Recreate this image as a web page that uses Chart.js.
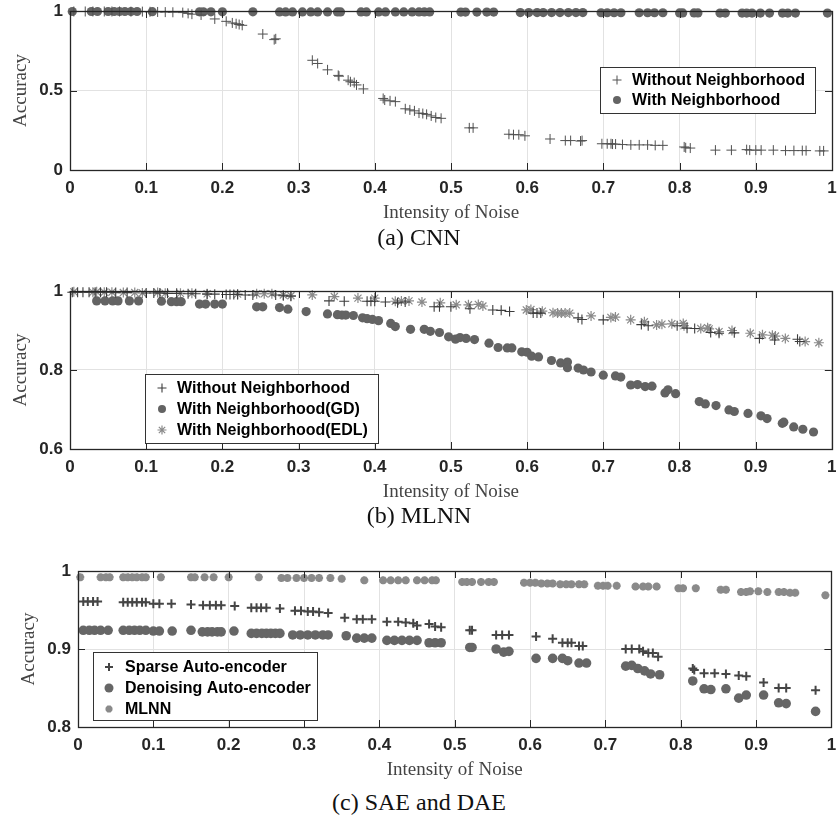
<!DOCTYPE html>
<html>
<head>
<meta charset="utf-8">
<script src="https://cdn.jsdelivr.net/npm/chart.js@4.4.1/dist/chart.umd.min.js"></script>
<style>
  body { margin: 0; background: #fff; width: 838px; height: 828px; position: relative; overflow: hidden; }
  canvas { position: absolute; left: 0; }
  .cap { position: absolute; left: 0; width: 838px; text-align: center; font-family: "Liberation Serif", serif; font-size: 24px; color: #111; line-height: 28px; }
</style>
</head>
<body>
<canvas id="chartA" width="838" height="224" style="top:0"></canvas>
<div class="cap" style="top:223px">(a) CNN</div>
<canvas id="chartB" width="838" height="223" style="top:280px"></canvas>
<div class="cap" style="top:501px">(b) MLNN</div>
<canvas id="chartC" width="838" height="221" style="top:560px"></canvas>
<div class="cap" style="top:788px">(c) SAE and DAE</div>
<script>
// ---- data ----
const xTicks = [0, 0.1, 0.2, 0.3, 0.4, 0.5, 0.6, 0.7, 0.8, 0.9, 1];
const yTicksA = [0, 0.5, 1];
const yTicksB = [0.6, 0.8, 1];
const yTicksC = [0.8, 0.9, 1];

// (a) CNN
const cnnPlainX = [0.005, 0.02, 0.03, 0.045, 0.055, 0.065, 0.08, 0.095, 0.105, 0.115, 0.125, 0.135, 0.148, 0.155, 0.16, 0.172,
  0.19, 0.205, 0.213, 0.218, 0.222, 0.226, 0.253, 0.268, 0.27, 0.318, 0.325, 0.338, 0.352, 0.353, 0.365, 0.368, 0.373, 0.376,
  0.385, 0.411, 0.413, 0.42, 0.427, 0.44, 0.446, 0.452, 0.458, 0.463, 0.468, 0.474, 0.48, 0.487, 0.524, 0.529, 0.576, 0.582,
  0.589, 0.597, 0.63, 0.65, 0.657, 0.67, 0.672, 0.698, 0.705, 0.71, 0.712, 0.716, 0.725, 0.736, 0.747, 0.758, 0.768, 0.778,
  0.806, 0.808, 0.814, 0.847, 0.868, 0.888, 0.892, 0.9, 0.907, 0.923, 0.939, 0.95, 0.961, 0.966, 0.984, 0.989];
const cnnPlainY = [0.997, 0.997, 0.997, 0.997, 0.997, 0.997, 0.996, 0.996, 0.995, 0.994, 0.993, 0.992, 0.99, 0.985, 0.98, 0.975,
  0.95, 0.935, 0.925, 0.92, 0.915, 0.91, 0.855, 0.82, 0.825, 0.69, 0.67, 0.63, 0.595, 0.59, 0.565, 0.555, 0.55, 0.535,
  0.51, 0.45, 0.44, 0.435, 0.43, 0.385, 0.378, 0.372, 0.358, 0.355, 0.35, 0.34, 0.33, 0.325, 0.265, 0.265, 0.225, 0.222,
  0.222, 0.215, 0.195, 0.185, 0.185, 0.182, 0.185, 0.165, 0.165, 0.165, 0.163, 0.163, 0.16, 0.158, 0.158, 0.158, 0.155, 0.155,
  0.145, 0.14, 0.138, 0.125, 0.125, 0.128, 0.125, 0.125, 0.125, 0.125, 0.122, 0.122, 0.122, 0.122, 0.12, 0.12];
const cnnNbrX = [0.003, 0.028, 0.036, 0.05, 0.058, 0.065, 0.072, 0.08, 0.088, 0.108, 0.17, 0.175, 0.185, 0.2, 0.24, 0.275,
  0.283, 0.292, 0.305, 0.316, 0.325, 0.338, 0.351, 0.355, 0.382, 0.389, 0.405, 0.414, 0.427, 0.438, 0.449, 0.458, 0.465,
  0.472, 0.513, 0.519, 0.534, 0.547, 0.556, 0.591, 0.602, 0.613, 0.621, 0.632, 0.643, 0.654, 0.664, 0.673, 0.697, 0.705,
  0.714, 0.723, 0.747, 0.758, 0.767, 0.778, 0.8, 0.804, 0.819, 0.824, 0.853, 0.86, 0.882, 0.888, 0.895, 0.906, 0.918,
  0.935, 0.942, 0.952, 0.994];
const cnnNbrY = [0.997, 0.997, 0.997, 0.997, 0.997, 0.997, 0.997, 0.997, 0.997, 0.996, 0.995, 0.995, 0.995, 0.995, 0.995, 0.994,
  0.994, 0.994, 0.994, 0.994, 0.994, 0.994, 0.994, 0.994, 0.994, 0.994, 0.994, 0.994, 0.994, 0.994, 0.994, 0.994, 0.994,
  0.994, 0.993, 0.993, 0.993, 0.993, 0.993, 0.99, 0.99, 0.99, 0.99, 0.99, 0.99, 0.99, 0.99, 0.99, 0.989, 0.989,
  0.989, 0.989, 0.989, 0.989, 0.989, 0.989, 0.988, 0.988, 0.988, 0.988, 0.987, 0.987, 0.987, 0.987, 0.987, 0.987, 0.987,
  0.987, 0.987, 0.987, 0.987];

// (b) MLNN
const mlnnPlainX = [0.003, 0.01, 0.017, 0.025, 0.033, 0.04, 0.048, 0.06, 0.075, 0.1, 0.11, 0.118, 0.128, 0.14, 0.155, 0.165,
  0.18, 0.19, 0.205, 0.21, 0.215, 0.22, 0.23, 0.24, 0.27, 0.28, 0.29, 0.34, 0.36, 0.39, 0.395, 0.4, 0.414, 0.43, 0.44,
  0.478, 0.485, 0.5, 0.525, 0.555, 0.566, 0.577, 0.608, 0.613, 0.618, 0.667, 0.672, 0.7, 0.75, 0.759, 0.797, 0.81, 0.82,
  0.841, 0.852, 0.872, 0.905, 0.925, 0.955, 0.958];
const mlnnPlainY = [0.997, 0.997, 0.997, 0.997, 0.997, 0.997, 0.997, 0.996, 0.996, 0.995, 0.995, 0.995, 0.994, 0.994, 0.993, 0.993,
  0.992, 0.992, 0.991, 0.991, 0.991, 0.991, 0.99, 0.99, 0.99, 0.988, 0.987, 0.975, 0.974, 0.974, 0.974, 0.974, 0.972, 0.97, 0.972,
  0.96, 0.96, 0.96, 0.955, 0.952, 0.951, 0.948, 0.944, 0.944, 0.944, 0.932, 0.928, 0.927, 0.915, 0.912, 0.912, 0.906, 0.905,
  0.895, 0.893, 0.894, 0.88, 0.876, 0.878, 0.872];
const mlnnGdX = [0.035, 0.046, 0.056, 0.063, 0.078, 0.09, 0.12, 0.133, 0.14, 0.146, 0.17, 0.178, 0.19, 0.2, 0.245, 0.253,
  0.275, 0.286, 0.31, 0.338, 0.351, 0.357, 0.362, 0.372, 0.384, 0.39, 0.397, 0.405, 0.421, 0.427, 0.447, 0.465, 0.473,
  0.485, 0.497, 0.506, 0.512, 0.52, 0.531, 0.55, 0.562, 0.574, 0.58, 0.593, 0.6, 0.606, 0.615, 0.632, 0.644, 0.653,
  0.653, 0.667, 0.674, 0.684, 0.7, 0.716, 0.723, 0.736, 0.745, 0.755, 0.764, 0.781, 0.785, 0.795, 0.826, 0.834, 0.848,
  0.865, 0.872, 0.89, 0.907, 0.915, 0.935, 0.937, 0.95, 0.962, 0.976];
const mlnnGdY = [0.975, 0.975, 0.975, 0.975, 0.975, 0.975, 0.974, 0.973, 0.973, 0.973, 0.967, 0.967, 0.967, 0.967, 0.96, 0.96,
  0.958, 0.954, 0.948, 0.942, 0.94, 0.939, 0.939, 0.938, 0.932, 0.93, 0.928, 0.925, 0.918, 0.91, 0.903, 0.903, 0.898,
  0.895, 0.884, 0.878, 0.882, 0.88, 0.877, 0.868, 0.857, 0.856, 0.856, 0.846, 0.845, 0.835, 0.833, 0.824, 0.818, 0.82,
  0.806, 0.805, 0.8, 0.795, 0.787, 0.785, 0.782, 0.762, 0.763, 0.758, 0.759, 0.742, 0.75, 0.74, 0.72, 0.714, 0.71,
  0.699, 0.695, 0.69, 0.684, 0.677, 0.665, 0.668, 0.656, 0.65, 0.643];
const mlnnEdlX = [0.005, 0.03, 0.035, 0.045, 0.055, 0.07, 0.085, 0.095, 0.115, 0.125, 0.145, 0.16, 0.18, 0.22, 0.245, 0.255,
  0.265, 0.28, 0.29, 0.318, 0.347, 0.378, 0.4, 0.427, 0.435, 0.445, 0.462, 0.486, 0.507, 0.523, 0.536, 0.542, 0.599,
  0.605, 0.62, 0.634, 0.64, 0.645, 0.65, 0.656, 0.684, 0.71, 0.716, 0.736, 0.754, 0.77, 0.777, 0.79, 0.805, 0.806,
  0.828, 0.837, 0.839, 0.852, 0.869, 0.893, 0.909, 0.922, 0.926, 0.939, 0.965, 0.983];
const mlnnEdlY = [0.998, 0.997, 0.998, 0.997, 0.997, 0.996, 0.996, 0.995, 0.996, 0.994, 0.994, 0.994, 0.993, 0.992, 0.993, 0.993,
  0.993, 0.99, 0.988, 0.99, 0.986, 0.982, 0.982, 0.974, 0.975, 0.975, 0.972, 0.97, 0.965, 0.965, 0.966, 0.962, 0.952,
  0.953, 0.949, 0.945, 0.944, 0.944, 0.944, 0.944, 0.937, 0.933, 0.934, 0.927, 0.922, 0.914, 0.916, 0.917, 0.918, 0.912,
  0.905, 0.907, 0.904, 0.897, 0.9, 0.893, 0.889, 0.888, 0.886, 0.88, 0.872, 0.869];

// (c) SAE and DAE
const saeX = [0.007, 0.013, 0.02, 0.026, 0.06, 0.066, 0.072, 0.078, 0.085, 0.09, 0.1, 0.108, 0.124, 0.15, 0.166, 0.175, 0.183,
  0.19, 0.208, 0.23, 0.237, 0.243, 0.25, 0.268, 0.288, 0.296, 0.305, 0.312, 0.32, 0.332, 0.354, 0.37, 0.378, 0.39, 0.41,
  0.425, 0.435, 0.445, 0.45, 0.466, 0.474, 0.482, 0.52, 0.523, 0.555, 0.563, 0.572, 0.608, 0.63, 0.643, 0.65, 0.655,
  0.665, 0.67, 0.727, 0.735, 0.745, 0.75, 0.757, 0.763, 0.77, 0.816, 0.818, 0.831, 0.845, 0.86, 0.877, 0.887, 0.91,
  0.93, 0.94, 0.979];
const saeY = [0.961, 0.961, 0.961, 0.961, 0.96, 0.96, 0.96, 0.96, 0.96, 0.96, 0.958, 0.958, 0.958, 0.957, 0.956, 0.956, 0.956,
  0.956, 0.955, 0.953, 0.953, 0.953, 0.953, 0.952, 0.949, 0.949, 0.948, 0.948, 0.947, 0.946, 0.94, 0.938, 0.938, 0.938, 0.935,
  0.935, 0.934, 0.933, 0.93, 0.932, 0.929, 0.928, 0.924, 0.924, 0.918, 0.918, 0.918, 0.916, 0.913, 0.908, 0.908, 0.908,
  0.904, 0.904, 0.9, 0.9, 0.9, 0.897, 0.895, 0.895, 0.89, 0.875, 0.873, 0.869, 0.869, 0.868, 0.866, 0.865, 0.857,
  0.85, 0.85, 0.847];
const daeX = [0.007, 0.015, 0.022, 0.03, 0.04, 0.06, 0.068, 0.075, 0.082, 0.09, 0.1, 0.108, 0.125, 0.15, 0.165, 0.172, 0.178,
  0.185, 0.19, 0.207, 0.23, 0.237, 0.244, 0.25, 0.256, 0.262, 0.268, 0.285, 0.295, 0.305, 0.315, 0.325, 0.332, 0.356,
  0.37, 0.38, 0.39, 0.41, 0.42, 0.43, 0.44, 0.45, 0.466, 0.474, 0.482, 0.52, 0.523, 0.555, 0.565, 0.572, 0.608, 0.63,
  0.643, 0.65, 0.665, 0.675, 0.727, 0.735, 0.743, 0.752, 0.76, 0.772, 0.816, 0.831, 0.84, 0.86, 0.877, 0.887, 0.91,
  0.93, 0.94, 0.979];
const daeY = [0.924, 0.924, 0.924, 0.924, 0.924, 0.924, 0.924, 0.924, 0.924, 0.924, 0.923, 0.923, 0.923, 0.924, 0.922, 0.922, 0.922,
  0.922, 0.922, 0.923, 0.92, 0.92, 0.92, 0.92, 0.92, 0.92, 0.92, 0.918, 0.918, 0.918, 0.918, 0.918, 0.918, 0.917,
  0.914, 0.914, 0.914, 0.911, 0.911, 0.911, 0.911, 0.911, 0.908, 0.908, 0.908, 0.902, 0.902, 0.9, 0.896, 0.897, 0.888, 0.888,
  0.888, 0.885, 0.882, 0.882, 0.878, 0.879, 0.875, 0.872, 0.868, 0.867, 0.859, 0.849, 0.848, 0.849, 0.837, 0.841, 0.841,
  0.831, 0.83, 0.82];
const mlnnRefX = [0.003, 0.03, 0.037, 0.042, 0.06, 0.066, 0.072, 0.078, 0.085, 0.09, 0.11, 0.15, 0.155, 0.168, 0.18, 0.2,
  0.24, 0.27, 0.278, 0.29, 0.3, 0.31, 0.32, 0.335, 0.35, 0.38, 0.405, 0.415, 0.425, 0.435, 0.45, 0.46, 0.47, 0.475,
  0.51, 0.516, 0.523, 0.535, 0.545, 0.552, 0.592, 0.6, 0.607, 0.615, 0.623, 0.63, 0.64, 0.648, 0.655, 0.665, 0.672,
  0.69, 0.697, 0.703, 0.715, 0.74, 0.75, 0.757, 0.768, 0.797, 0.803, 0.82, 0.853, 0.86, 0.88, 0.887, 0.892, 0.903,
  0.915, 0.93, 0.937, 0.945, 0.952, 0.992];
const mlnnRefY = [0.992, 0.992, 0.992, 0.992, 0.992, 0.992, 0.992, 0.992, 0.992, 0.992, 0.992, 0.992, 0.992, 0.992, 0.992, 0.992,
  0.992, 0.991, 0.991, 0.991, 0.991, 0.991, 0.991, 0.991, 0.99, 0.988, 0.988, 0.988, 0.988, 0.988, 0.988, 0.988, 0.988, 0.988,
  0.986, 0.986, 0.986, 0.986, 0.986, 0.986, 0.985, 0.985, 0.985, 0.984, 0.984, 0.984, 0.983, 0.983, 0.983, 0.983, 0.983,
  0.981, 0.981, 0.981, 0.981, 0.98, 0.98, 0.98, 0.98, 0.978, 0.978, 0.978, 0.976, 0.976, 0.973, 0.973, 0.974, 0.974,
  0.973, 0.973, 0.973, 0.972, 0.972, 0.969];

// ---- helpers ----
const tickFont = { family: "Liberation Sans, Arial, sans-serif", size: 17, weight: "bold" };
const titleFont = { family: "Liberation Serif, Times New Roman, serif", size: 19 };
const fmt = v => String(Math.round(v * 10) / 10);

function pts(xs, ys) {
  return xs.map((x, i) => ({ x: x, y: ys[i] }));
}

function drawMarker(ctx, style, r, x, y, color, lw) {
  ctx.save();
  ctx.fillStyle = color;
  ctx.strokeStyle = color;
  ctx.lineWidth = lw;
  ctx.beginPath();
  if (style === "circle") {
    ctx.arc(x, y, r, 0, Math.PI * 2);
    ctx.fill();
  } else {
    ctx.moveTo(x - r, y); ctx.lineTo(x + r, y);
    ctx.moveTo(x, y - r); ctx.lineTo(x, y + r);
    if (style === "star") {
      const d = r * 0.707;
      ctx.moveTo(x - d, y - d); ctx.lineTo(x + d, y + d);
      ctx.moveTo(x - d, y + d); ctx.lineTo(x + d, y - d);
    }
    ctx.stroke();
  }
  ctx.restore();
}

// box, inward ticks and boxed legend, matlab style
const frame = {
  id: "frame",
  afterDatasetsDraw(chart, args, opts) {
    const ctx = chart.ctx;
    const a = chart.chartArea;
    const xs = chart.scales.x, ys = chart.scales.y;
    ctx.save();
    ctx.strokeStyle = "#262626";
    ctx.lineWidth = 1;
    ctx.beginPath();
    xs.ticks.forEach(t => {
      const px = Math.round(xs.getPixelForValue(t.value)) + 0.5;
      ctx.moveTo(px, a.bottom); ctx.lineTo(px, a.bottom - 7);
      ctx.moveTo(px, a.top); ctx.lineTo(px, a.top + 7);
    });
    ys.ticks.forEach(t => {
      const py = Math.round(ys.getPixelForValue(t.value)) + 0.5;
      ctx.moveTo(a.left, py); ctx.lineTo(a.left + 7, py);
      ctx.moveTo(a.right, py); ctx.lineTo(a.right - 7, py);
    });
    ctx.stroke();
    ctx.lineWidth = 1.3;
    ctx.strokeRect(Math.round(a.left) + 0.5, Math.round(a.top) + 0.5, Math.round(a.right - a.left), Math.round(a.bottom - a.top));

    // legend
    const L = opts.box;
    ctx.fillStyle = "#fff";
    ctx.fillRect(L.x, L.y, L.w, L.h);
    ctx.strokeStyle = "#333";
    ctx.lineWidth = 1;
    ctx.strokeRect(L.x + 0.5, L.y + 0.5, L.w, L.h);
    ctx.font = "bold 16px 'Liberation Sans', Arial, sans-serif";
    ctx.textBaseline = "middle";
    chart.data.datasets.forEach((ds, i) => {
      const ry = L.y + L.first + i * L.step;
      drawMarker(ctx, ds.pointStyle, ds.legendR, L.x + L.mark, ry, ds.pointBorderColor, ds.pointBorderWidth || 1);
      ctx.fillStyle = "#000";
      ctx.fillText(ds.label, L.x + L.text, ry + 1);
    });
    ctx.restore();
  }
};

function makeChart(id, datasets, yMin, yMax, yTicks, yW, yTitlePad, legendBox) {
  return new Chart(document.getElementById(id), {
    type: "scatter",
    data: { datasets: datasets },
    options: {
      responsive: false,
      animation: false,
      layout: { padding: { top: 11, right: 4, left: 0, bottom: 0 } },
      plugins: { legend: { display: false }, tooltip: { enabled: false }, frame: { box: legendBox } },
      elements: { point: { hoverRadius: 0 } },
      scales: {
        x: {
          type: "linear", min: 0, max: 1,
          afterBuildTicks: s => { s.ticks = xTicks.map(v => ({ value: v })); },
          afterFit: s => { s.height = 54; s.paddingLeft = 0; s.paddingRight = 0; },
          ticks: { font: tickFont, color: "#262626", padding: 8, maxRotation: 0, callback: fmt },
          grid: { color: "#e2e2e2", drawTicks: false },
          border: { display: false },
          title: { display: true, text: "Intensity of Noise", font: titleFont, color: "#444", padding: { top: 0, bottom: 0 } }
        },
        y: {
          type: "linear", min: yMin, max: yMax,
          afterBuildTicks: s => { s.ticks = yTicks.map(v => ({ value: v })); },
          afterFit: s => { s.width = yW; s.paddingTop = 0; s.paddingBottom = 0; },
          ticks: { font: tickFont, color: "#262626", padding: 7, callback: fmt },
          grid: { color: "#e2e2e2", drawTicks: false },
          border: { display: false },
          title: { display: true, text: "Accuracy", font: titleFont, color: "#444", padding: { top: yTitlePad, bottom: 0 } }
        }
      }
    },
    plugins: [frame]
  });
}

function series(label, xs, ys, style, r, color, lw, legendR) {
  const round = style === "circle";
  return {
    label: label,
    data: pts(xs, ys),
    pointStyle: style,
    pointRadius: r,
    pointBackgroundColor: color,
    pointBorderColor: color,
    pointBorderWidth: round ? 0 : lw,
    legendR: legendR,
    clip: false
  };
}

makeChart("chartA", [
  series("Without Neighborhood", cnnPlainX, cnnPlainY, "cross", 5, "#505050", 1, 4.5),
  series("With Neighborhood", cnnNbrX, cnnNbrY, "circle", 4.6, "#646464", 0, 4)
], 0, 1, yTicksA, 70, 10, { x: 600, y: 67, w: 215, h: 46, first: 13, step: 20, mark: 17, text: 32 });

makeChart("chartB", [
  series("Without Neighborhood", mlnnPlainX, mlnnPlainY, "cross", 5, "#3c3c3c", 1.1, 4.5),
  series("With Neighborhood(GD)", mlnnGdX, mlnnGdY, "circle", 4.6, "#636363", 0, 4),
  series("With Neighborhood(EDL)", mlnnEdlX, mlnnEdlY, "star", 5, "#8a8a8a", 1.2, 4.5)
], 0.6, 1, yTicksB, 70, 10, { x: 145, y: 94, w: 233, h: 69, first: 14, step: 21, mark: 17, text: 32 });

makeChart("chartC", [
  series("Sparse Auto-encoder", saeX, saeY, "cross", 4.5, "#454545", 2, 4),
  series("Denoising Auto-encoder", daeX, daeY, "circle", 4.8, "#666666", 0, 4.5),
  series("MLNN", mlnnRefX, mlnnRefY, "star", 4, "#8a8a8a", 2.6, 3.5)
], 0.8, 1, yTicksC, 78, 18, { x: 93, y: 92, w: 224, h: 68, first: 15, step: 21, mark: 16, text: 32 });
</script>
</body>
</html>
